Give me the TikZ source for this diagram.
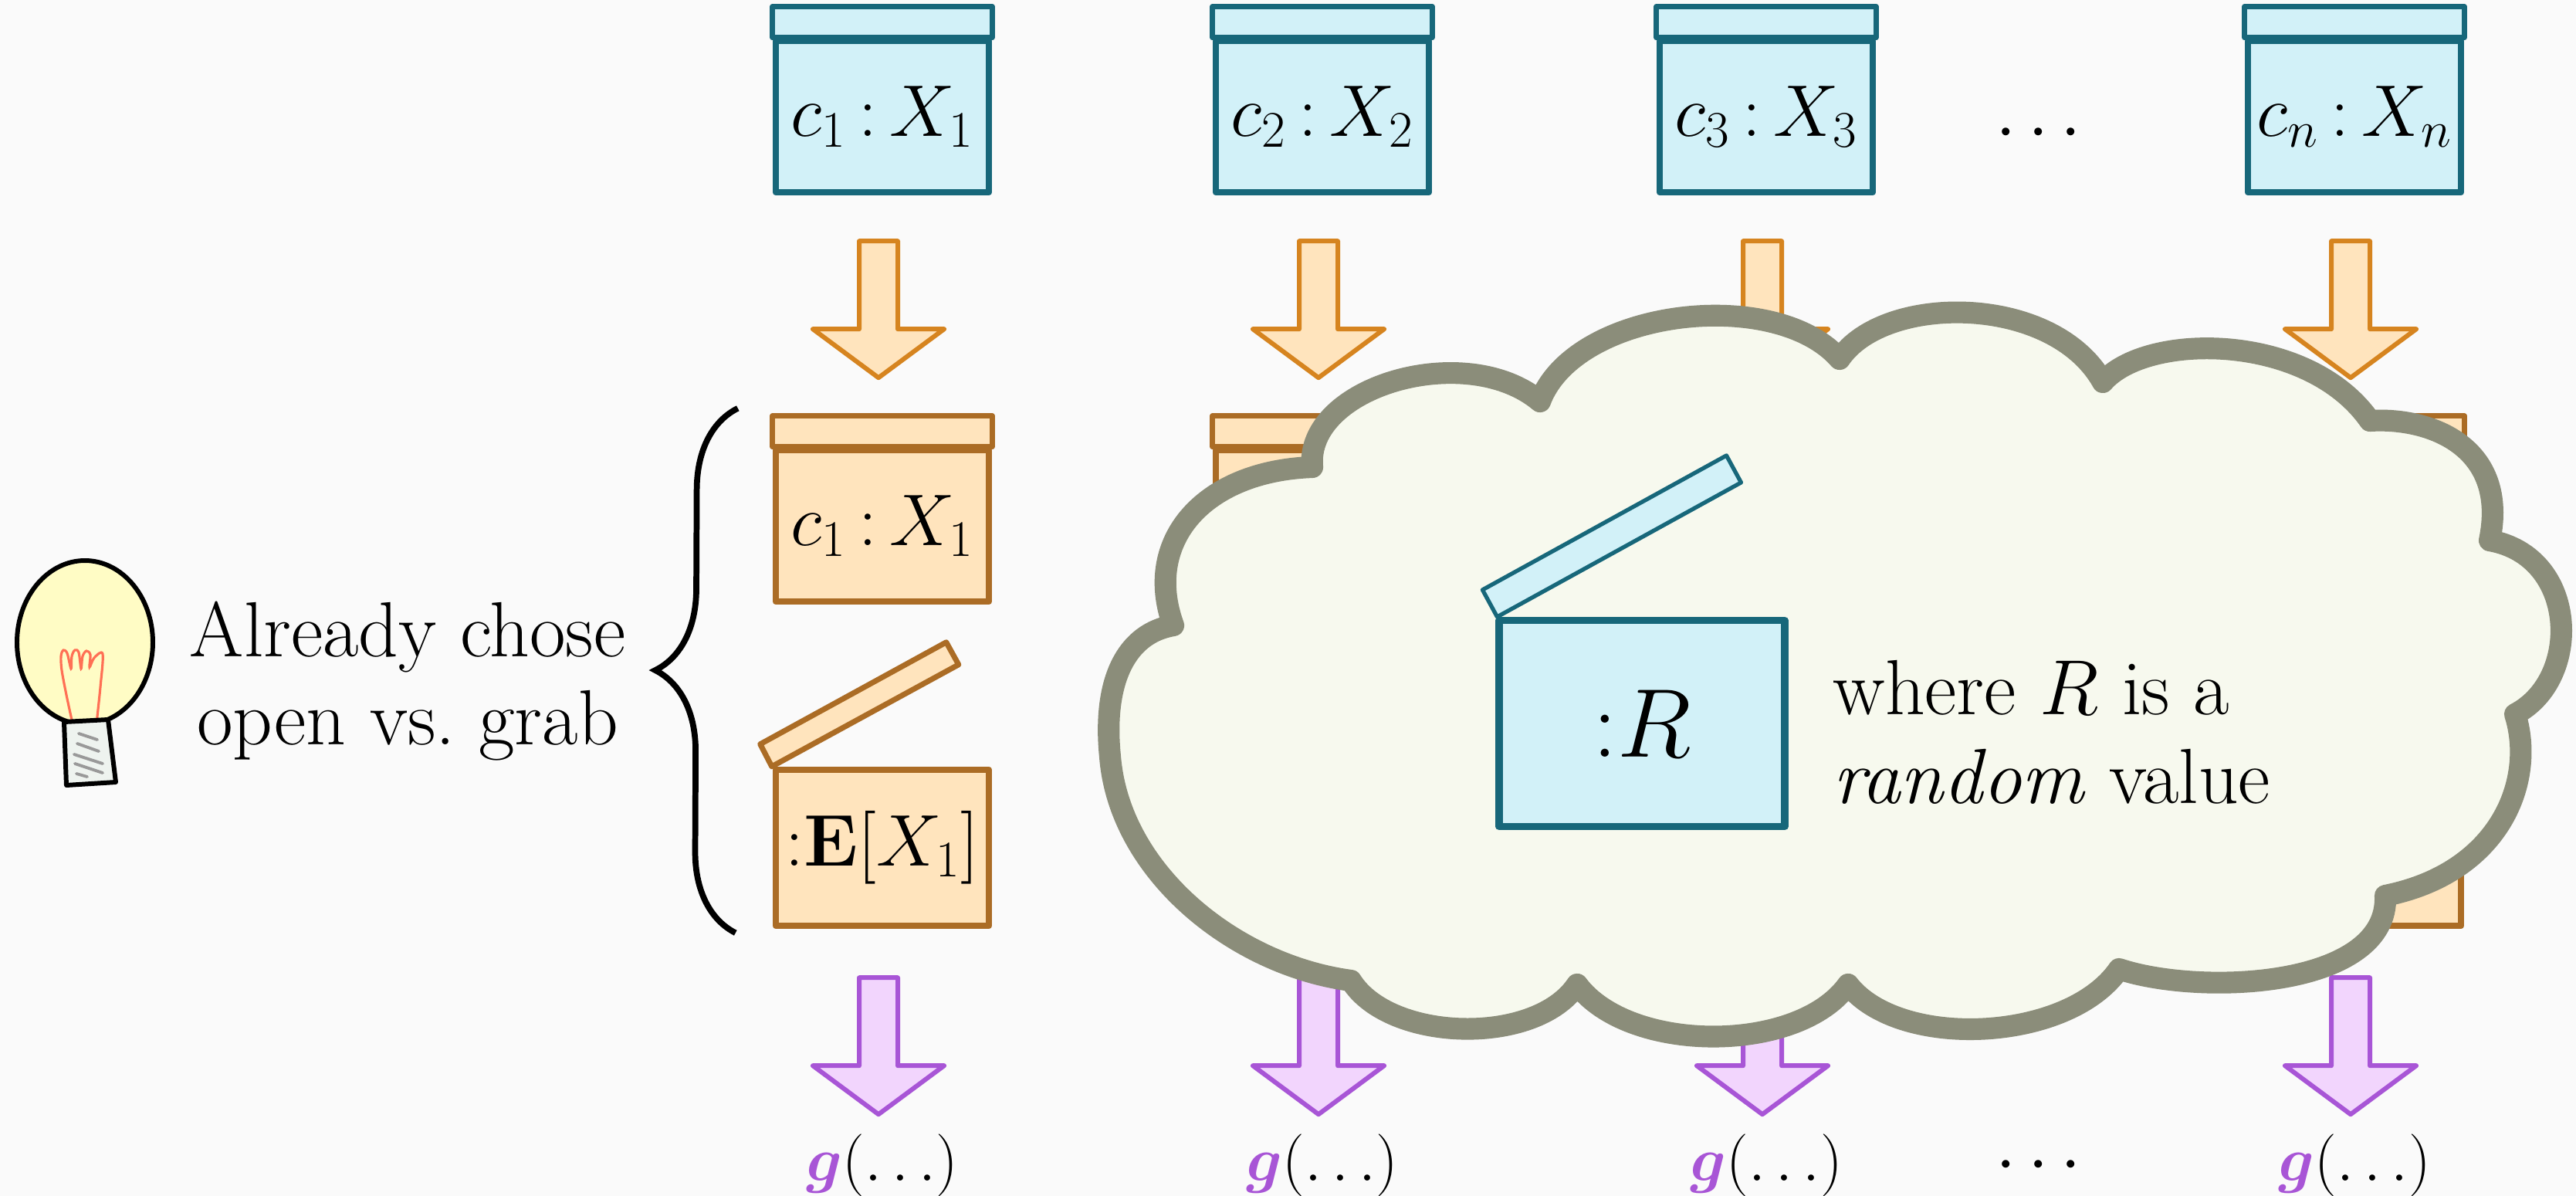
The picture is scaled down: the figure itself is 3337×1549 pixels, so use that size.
\RequirePackage{fix-cm}
\documentclass[tikz,border=0pt]{standalone}
\usepackage{amsmath}
\usepackage{bm}
\usetikzlibrary{calc}
\usetikzlibrary{decorations.pathreplacing}

% colours
\definecolor{paper}{HTML}{FAFAFA}
\definecolor{boxblue}{HTML}{D2F1F8}
\definecolor{lineblue}{HTML}{17677A}
\definecolor{boxorange}{HTML}{FFE4BD}
\definecolor{lineorange}{HTML}{AB6C25}
\definecolor{arroworange}{HTML}{D6841F}
\definecolor{boxpurple}{HTML}{F2D5FD}
\definecolor{linepurple}{HTML}{A855D6}
\definecolor{cloudfill}{HTML}{F7F9EE}
\definecolor{cloudline}{HTML}{8B8D7A}
\definecolor{bulbfill}{HTML}{FFFCC5}
\definecolor{bulbbase}{HTML}{EEF3EF}
\definecolor{filament}{HTML}{FF7055}

\newcommand{\cardfont}{\fontsize{27}{32.7}\selectfont}
\newcommand{\notefont}{\fontsize{28.8}{32.7}\selectfont}
\newcommand{\outfont}{\fontsize{23}{28}\selectfont}
\newcommand{\keyfont}{\fontsize{36}{40}\selectfont}
\newcommand{\hasval}{\mskip3mu{:}\mskip3mu}

\tikzset{
  card/.style={draw, line width=2.4pt, line join=round, inner sep=0pt,
    minimum width=2.76cm, minimum height=1.96cm, font=\cardfont},
  bluecard/.style={card, draw=lineblue, fill=boxblue},
  orangecard/.style={card, draw=lineorange, fill=boxorange},
  bluelid/.style={draw=lineblue, fill=boxblue, line width=2pt, line join=round},
  orangelid/.style={draw=lineorange, fill=boxorange, line width=2pt, line join=round},
  fatarrow/.pic={
    \path[pic actions] (-25,0) -- (25,0) -- (25,114) -- (85,114)
      -- (0,177) -- (-85,114) -- (-25,114) -- cycle;
  },
  orangearrow/.style={draw=arroworange, fill=boxorange, line width=1.7pt, line join=round},
  purplearrow/.style={draw=linepurple, fill=boxpurple, line width=1.7pt, line join=round},
  bracket/.style={decorate, decoration={brace, amplitude=30pt}, line width=2.2pt},
  cloud/.style={draw=cloudline, fill=cloudfill, line width=8pt, line join=round},
}

\begin{document}
\begin{tikzpicture}[x=0.1mm, y=-0.1mm]

% paper
\fill[paper] (0,0) rectangle (3337,1549);
\useasboundingbox (0,0) rectangle (3337,1549);

% light bulb
\draw[line width=1.7pt, fill=bulbfill] (110,832) ellipse [x radius=8.8mm, y radius=10.6mm];
\draw[filament, line width=0.9pt] plot[smooth, tension=0.55] coordinates {
  (94,937) (86,900) (80,868) (79,850) (82,842) (87,846) (92,866) (93,850)
  (97,842) (102,845) (105,866) (107,850) (112,843) (117,848) (116,864)
  (122,852) (133,847) (130,890) (125,937)};
\draw[line width=1.7pt, fill=bulbbase, line join=round]
  (83,935) -- (140,932) -- (150,1013) -- (86,1017) -- cycle;
\foreach \a/\b/\c/\d in {102/950/126/958, 100/963/128/973, 96/977/133/989,
                         97/989/133/1001, 99/1002/113/1006}
  \draw[gray!80, line width=1.1pt, line cap=round] (\a,\b) -- (\c,\d);

\node[font=\notefont, align=center] (choice) at (528,882) {Already chose\\open vs.\ grab};

% one column per card
\foreach \col/\cx in {1/1143, 2/1713, 3/2288, n/3050} {
  \node[bluecard] (top\col) at (\cx,151) {$c_{\col} \hasval X_{\col}$};
  \draw[bluelid] (top\col.north west) rectangle ($(top\col.north east)+(0,-40)$);
  \pic[orangearrow] at ($(top\col.south)+(-5,59)$) {fatarrow};
  \node[orangecard] (mid\col) at ($(top\col)+(0,530)$) {};
  \draw[orangelid] (mid\col.north west) rectangle ($(mid\col.north east)+(0,-40)$);
  \node[orangecard, minimum height=2.02cm] (low\col) at ($(mid\col)+(0,417)$) {};
  \draw[orangelid] ($(low\col.north west)+(-1,0)$) -- ++(-15,-29) -- ++(241,-132)
    -- ++(16,29) -- cycle;
  \pic[purplearrow] at ($(low\col.south)+(-5,63)$) {fatarrow};
  \node[font=\outfont] (out\col) at ($(low\col.south)+(0,306)$)
    {$\textcolor{linepurple}{\bm{g}}(\ldots)$};
}
\node[font=\cardfont] (midtext) at (mid1) {$c_1 \hasval X_1$};
\node[font=\cardfont] (lowtext) at (low1) {${:}\mathbf{E}[X_1]$};

\node[font=\cardfont] (topdots) at (2649,173) {$\cdots$};
\node[font=\cardfont] (lowdots) at (2649,1510) {$\cdots$};

\draw[bracket] ($(low1.south west)+(-48,5)$) -- ($(mid1.north west)+(-45,-50)$);

% the cloud over the other columns
\draw[cloud] (1700,605)
  .. controls (1690,500) and (1900,440) .. (1995,520)
  .. controls (2040,400) and (2300,370) .. (2383,465)
  .. controls (2440,380) and (2660,380) .. (2724,495)
  .. controls (2780,430) and (2990,430) .. (3070,545)
  .. controls (3150,540) and (3250,580) .. (3225,700)
  .. controls (3340,720) and (3345,880) .. (3258,925)
  .. controls (3285,1010) and (3240,1130) .. (3090,1160)
  .. controls (3095,1280) and (2850,1290) .. (2745,1255)
  .. controls (2680,1350) and (2460,1360) .. (2394,1275)
  .. controls (2330,1365) and (2110,1365) .. (2043,1275)
  .. controls (1990,1355) and (1800,1350) .. (1750,1270)
  .. controls (1600,1250) and (1450,1130) .. (1438,980)
  .. controls (1428,880) and (1460,820) .. (1520,810)
  .. controls (1480,700) and (1560,610) .. (1700,605) -- cycle;

\node[card, draw=lineblue, fill=boxblue, line width=2.6pt, minimum width=3.7cm,
  minimum height=2.67cm, font=\keyfont] (rcard) at (2127,937) {${:}R$};
\draw[bluelid, line width=1.5pt] ($(rcard.north west)+(2,0)$) -- ++(-19,-35)
  -- ++(316,-174) -- ++(19,35) -- cycle;

\node[font=\notefont, align=left, anchor=west] (rnote) at (2362,948)
  {where $R$ is a\\\textit{random} value};

\end{tikzpicture}
\end{document}
